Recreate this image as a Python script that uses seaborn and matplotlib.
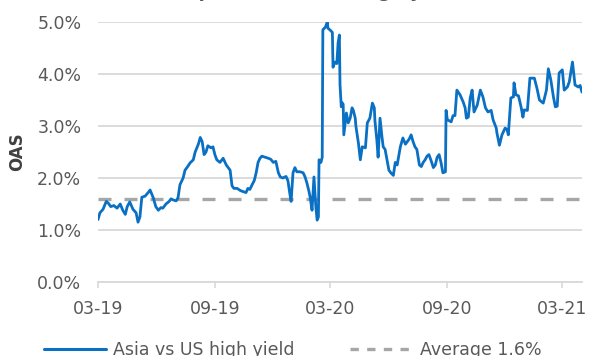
import matplotlib
matplotlib.use("Agg")
import matplotlib.pyplot as plt
import matplotlib.dates as mdates
from matplotlib.lines import Line2D
from matplotlib.ticker import PercentFormatter
import pandas as pd
import seaborn as sns

# Asia vs US high yield option-adjusted spread differential (%)
dates = [
    "2019-03-01", "2019-03-04", "2019-03-09", "2019-03-14", "2019-03-17", "2019-03-21",
    "2019-03-26", "2019-03-31", "2019-04-05", "2019-04-09", "2019-04-13", "2019-04-16",
    "2019-04-20", "2019-04-25", "2019-04-30", "2019-05-03", "2019-05-06", "2019-05-09",
    "2019-05-14", "2019-05-19", "2019-05-22", "2019-05-27", "2019-05-31", "2019-06-04",
    "2019-06-08", "2019-06-11", "2019-06-16", "2019-06-21", "2019-06-24", "2019-06-27",
    "2019-07-02", "2019-07-05", "2019-07-08", "2019-07-13", "2019-07-16", "2019-07-19",
    "2019-07-24", "2019-07-29", "2019-08-01", "2019-08-06", "2019-08-09", "2019-08-12",
    "2019-08-15", "2019-08-18", "2019-08-21", "2019-08-26", "2019-08-29", "2019-09-01",
    "2019-09-04", "2019-09-09", "2019-09-14", "2019-09-19", "2019-09-22", "2019-09-25",
    "2019-09-28", "2019-10-01", "2019-10-06", "2019-10-11", "2019-10-15", "2019-10-20",
    "2019-10-23", "2019-10-26", "2019-10-30", "2019-11-02", "2019-11-05", "2019-11-08",
    "2019-11-11", "2019-11-14", "2019-11-19", "2019-11-24", "2019-11-28", "2019-12-02",
    "2019-12-06", "2019-12-10", "2019-12-13", "2019-12-17", "2019-12-22", "2019-12-25",
    "2019-12-28", "2019-12-30", "2020-01-02", "2020-01-05", "2020-01-08", "2020-01-13",
    "2020-01-18", "2020-01-21", "2020-01-24", "2020-01-27", "2020-01-29", "2020-02-01",
    "2020-02-04", "2020-02-07", "2020-02-09", "2020-02-11", "2020-02-12", "2020-02-15",
    "2020-02-17", "2020-02-18", "2020-02-22", "2020-02-25", "2020-02-26", "2020-02-29",
    "2020-03-04", "2020-03-05", "2020-03-08", "2020-03-11", "2020-03-13", "2020-03-15",
    "2020-03-16", "2020-03-18", "2020-03-19", "2020-03-21", "2020-03-22", "2020-03-26",
    "2020-03-29", "2020-04-01", "2020-04-04", "2020-04-06", "2020-04-09", "2020-04-10",
    "2020-04-14", "2020-04-17", "2020-04-20", "2020-04-25", "2020-04-28", "2020-05-02",
    "2020-05-06", "2020-05-09", "2020-05-10", "2020-05-13", "2020-05-15", "2020-05-18",
    "2020-05-21", "2020-05-23", "2020-05-26", "2020-05-29", "2020-06-01", "2020-06-04",
    "2020-06-08", "2020-06-11", "2020-06-14", "2020-06-19", "2020-06-23", "2020-06-27",
    "2020-06-30", "2020-07-03", "2020-07-06", "2020-07-09", "2020-07-12", "2020-07-15",
    "2020-07-19", "2020-07-22", "2020-07-25", "2020-07-28", "2020-07-31", "2020-08-03",
    "2020-08-06", "2020-08-10", "2020-08-13", "2020-08-16", "2020-08-19", "2020-08-22",
    "2020-08-25", "2020-08-29", "2020-08-30", "2020-09-01", "2020-09-04", "2020-09-07",
    "2020-09-10", "2020-09-13", "2020-09-16", "2020-09-21", "2020-09-26", "2020-09-29",
    "2020-10-01", "2020-10-04", "2020-10-07", "2020-10-10", "2020-10-13", "2020-10-18",
    "2020-10-23", "2020-10-27", "2020-10-31", "2020-11-04", "2020-11-09", "2020-11-12",
    "2020-11-17", "2020-11-18", "2020-11-22", "2020-11-26", "2020-12-01", "2020-12-04",
    "2020-12-06", "2020-12-10", "2020-12-14", "2020-12-15", "2020-12-18", "2020-12-22",
    "2020-12-26", "2020-12-29", "2020-12-31", "2021-01-05", "2021-01-09", "2021-01-16",
    "2021-01-20", "2021-01-24", "2021-01-30", "2021-02-04", "2021-02-07", "2021-02-11",
    "2021-02-15", "2021-02-18", "2021-02-21", "2021-02-24", "2021-03-01", "2021-03-04",
    "2021-03-09", "2021-03-12", "2021-03-17", "2021-03-21", "2021-03-26", "2021-03-29",
    "2021-04-01",
]

oas = [
    1.20, 1.33, 1.40, 1.55, 1.52, 1.45,
    1.47, 1.42, 1.50, 1.38, 1.30, 1.45,
    1.54, 1.40, 1.33, 1.15, 1.25, 1.63,
    1.65, 1.72, 1.77, 1.62, 1.45, 1.38,
    1.43, 1.42, 1.50, 1.55, 1.60, 1.58,
    1.56, 1.62, 1.87, 2.00, 2.15, 2.20,
    2.29, 2.35, 2.50, 2.65, 2.78, 2.70,
    2.45, 2.50, 2.62, 2.58, 2.60, 2.45,
    2.35, 2.30, 2.38, 2.25, 2.20, 2.15,
    1.85, 1.80, 1.80, 1.76, 1.74, 1.72,
    1.80, 1.78, 1.88, 1.95, 2.10, 2.30,
    2.38, 2.42, 2.40, 2.38, 2.36, 2.30,
    2.32, 2.10, 2.02, 2.00, 2.03, 1.95,
    1.70, 1.55, 2.10, 2.20, 2.12, 2.12,
    2.10, 2.02, 1.90, 1.75, 1.63, 1.38,
    2.02, 1.44, 1.19, 1.25, 2.35, 2.30,
    2.40, 4.85, 4.90, 5.00, 4.88, 4.85,
    4.80, 4.13, 4.23, 4.20, 4.60, 4.75,
    3.80, 3.37, 3.45, 3.42, 2.83, 3.25,
    3.06, 3.15, 3.35, 3.30, 3.15, 3.00,
    2.67, 2.35, 2.60, 2.58, 3.06, 3.15,
    3.44, 3.35, 3.10, 2.73, 2.40, 3.15,
    2.80, 2.60, 2.55, 2.35, 2.15, 2.10,
    2.05, 2.30, 2.25, 2.60, 2.77, 2.65,
    2.70, 2.75, 2.83, 2.70, 2.60, 2.55,
    2.25, 2.22, 2.30, 2.35, 2.42, 2.45,
    2.35, 2.20, 2.25, 2.40, 2.45, 2.30,
    2.10, 2.12, 3.30, 3.12, 3.10, 3.08,
    3.20, 3.20, 3.69, 3.60, 3.46, 3.35,
    3.15, 3.17, 3.54, 3.69, 3.27, 3.40,
    3.69, 3.56, 3.35, 3.27, 3.30, 3.12,
    2.96, 2.87, 2.63, 2.83, 2.96, 2.93,
    2.83, 3.54, 3.56, 3.83, 3.60, 3.58,
    3.37, 3.17, 3.31, 3.30, 3.92, 3.92,
    3.73, 3.50, 3.44, 3.69, 4.10, 3.88,
    3.56, 3.37, 3.38, 4.02, 4.08, 3.69,
    3.75, 3.85, 4.23, 3.79, 3.75, 3.78,
    3.65,
]

average = 1.6
series_label = "Asia vs US high yield"
average_label = f"Average {average:.1f}%"
y_label = "OAS"
title = "Asian HY spreads over US high yield"

df = pd.DataFrame({"date": pd.to_datetime(dates), "oas": [v / 100 for v in oas]})

sns.set_theme(style="white")
plt.rcParams["font.family"] = ["DejaVu Sans"]

blue = "#0a70c4"
grey_avg = "#a6a6a6"
grid_c = "#d9d9d9"
text_c = "#595959"

fig = plt.figure(figsize=(5.89, 3.56), dpi=100)
ax = fig.add_axes([98 / 589, 1 - 282 / 356, (582 - 98) / 589, (282 - 22) / 356])

ax.axhline(average / 100, color=grey_avg, lw=2.4, dashes=(3.9, 3.9), zorder=2)
sns.lineplot(data=df, x="date", y="oas", ax=ax, color=blue, lw=2.0, zorder=3)

ax.set_xlim(pd.Timestamp("2019-03-01"), pd.Timestamp("2021-04-01"))
ax.set_ylim(0, 0.05)
ax.yaxis.set_major_formatter(PercentFormatter(1.0, decimals=1))
ax.set_yticks([0, 0.01, 0.02, 0.03, 0.04, 0.05])
ax.xaxis.set_major_locator(mdates.MonthLocator(bymonth=[3, 9]))
ax.xaxis.set_major_formatter(mdates.DateFormatter("%m-%y"))

ax.grid(axis="y", color=grid_c, lw=1.3)
ax.set_axisbelow(True)
for s in ["top", "right", "left"]:
    ax.spines[s].set_visible(False)
ax.spines["bottom"].set_color(grid_c)
ax.spines["bottom"].set_linewidth(1.3)

ax.tick_params(axis="y", length=0, pad=12, labelsize=12.5, labelcolor=text_c)
ax.tick_params(axis="x", length=4, width=1.2, color=grid_c, pad=9,
               labelsize=12.5, labelcolor=text_c, bottom=True)

ax.set_xlabel("")
ax.set_ylabel(y_label, fontsize=12, fontweight="bold", color="#404040", labelpad=8)

# Chart heading sits at the very top edge of the canvas
fig.text(0.467, 1 + 3 / 356, title, ha="center", va="baseline",
         fontsize=13, fontweight="bold", color="#595959")

handles = [
    Line2D([], [], color=blue, lw=2.2),
    Line2D([], [], color=grey_avg, lw=2.4, dashes=(2.5, 2.5)),
]
fig.legend(handles, [series_label, average_label], loc="center",
           bbox_to_anchor=(0.497, 1 - 350 / 356), ncol=2, frameon=False,
           fontsize=12.5, labelcolor=text_c, handlelength=3.6, handletextpad=0.4,
           columnspacing=3.2)

fig.savefig("out.png", dpi=100)
